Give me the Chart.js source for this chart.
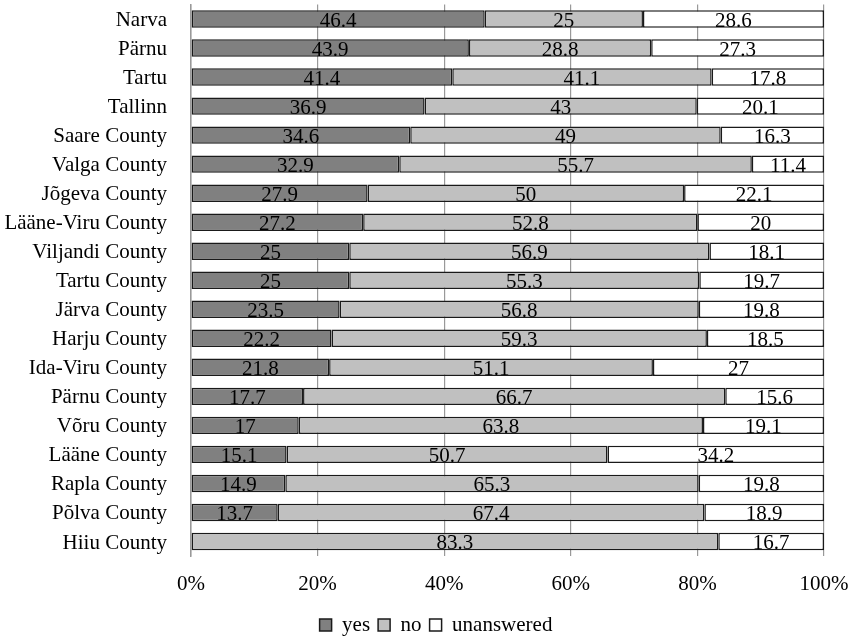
<!DOCTYPE html>
<html>
<head>
<meta charset="utf-8">
<script src="https://cdn.jsdelivr.net/npm/chart.js@4/dist/chart.umd.min.js"></script>
<style>
  html, body { margin: 0; padding: 0; background: #fff; }
  #wrap { width: 851px; height: 636px; }
</style>
</head>
<body>
<div id="wrap"><canvas id="c" width="851" height="636"></canvas></div>
<script>
// Survey answers by region, percent of respondents
const regions = [
  'Narva', 'Pärnu', 'Tartu', 'Tallinn', 'Saare County', 'Valga County',
  'Jõgeva County', 'Lääne-Viru County', 'Viljandi County', 'Tartu County',
  'Järva County', 'Harju County', 'Ida-Viru County', 'Pärnu County',
  'Võru County', 'Lääne County', 'Rapla County', 'Põlva County', 'Hiiu County'
];
const yes = [46.4, 43.9, 41.4, 36.9, 34.6, 32.9, 27.9, 27.2, 25, 25, 23.5, 22.2, 21.8, 17.7, 17, 15.1, 14.9, 13.7, 0];
const no = [25, 28.8, 41.1, 43, 49, 55.7, 50, 52.8, 56.9, 55.3, 56.8, 59.3, 51.1, 66.7, 63.8, 50.7, 65.3, 67.4, 83.3];
const unanswered = [28.6, 27.3, 17.8, 20.1, 16.3, 11.4, 22.1, 20, 18.1, 19.7, 19.8, 18.5, 27, 15.6, 19.1, 34.2, 19.8, 18.9, 16.7];
const xTicks = [0, 20, 40, 60, 80, 100];

const FONT = '"Liberation Serif", "Times New Roman", serif';
const SIZE = 21;

// 100% stacked: each row is scaled to its own total, labels keep the stated values
const totals = regions.map((_, i) => yes[i] + no[i] + unanswered[i]);
const share = arr => arr.map((v, i) => v / totals[i] * 100);

// Draws the stated value in the middle of every non-empty segment
const segmentLabels = {
  id: 'segmentLabels',
  afterDatasetsDraw(chart) {
    const ctx = chart.ctx;
    ctx.save();
    ctx.font = SIZE + 'px ' + FONT;
    ctx.fillStyle = '#000';
    ctx.textAlign = 'center';
    ctx.textBaseline = 'alphabetic';
    chart.data.datasets.forEach((ds, di) => {
      const meta = chart.getDatasetMeta(di);
      meta.data.forEach((bar, i) => {
        const raw = ds.rawValues[i];
        if (!raw) return;
        const { x, y, base } = bar.getProps(['x', 'y', 'base'], true);
        ctx.fillText(String(raw), (x + base) / 2, y + 8);
      });
    });
    ctx.restore();
  }
};

new Chart(document.getElementById('c'), {
  type: 'bar',
  data: {
    labels: regions,
    datasets: [
      { label: 'yes', data: share(yes), rawValues: yes, backgroundColor: '#808080' },
      { label: 'no', data: share(no), rawValues: no, backgroundColor: '#c0c0c0' },
      { label: 'unanswered', data: share(unanswered), rawValues: unanswered, backgroundColor: '#ffffff' }
    ].map(d => Object.assign(d, {
      borderColor: '#1a1a1a',
      borderWidth: 1.5,
      borderSkipped: false,
      categoryPercentage: 1,
      barPercentage: 0.6
    }))
  },
  options: {
    indexAxis: 'y',
    responsive: false,
    animation: false,
    devicePixelRatio: 1,
    // negative right padding widens the legend strip so it centres a little right of the page middle
    layout: { padding: { top: 4.5, right: -21, left: 0, bottom: -9.5 } },
    plugins: {
      tooltip: { enabled: false },
      legend: {
        position: 'bottom',
        labels: {
          font: { family: FONT, size: SIZE },
          color: '#000',
          boxWidth: 12,
          boxHeight: 12,
          padding: 8
        }
      }
    },
    scales: {
      x: {
        stacked: true,
        min: 0,
        max: 100,
        afterBuildTicks(scale) { scale.ticks = xTicks.map(v => ({ value: v })); },
        afterFit(scale) {
          scale.height = 50.5;
          scale.paddingLeft = 0;
          scale.paddingRight = 27;
        },
        ticks: {
          callback: v => v + '%',
          font: { family: FONT, size: SIZE },
          color: '#000',
          padding: 16,
          maxRotation: 0
        },
        grid: { color: '#999999', lineWidth: 1.2, drawTicks: false },
        border: { display: false }
      },
      y: {
        stacked: true,
        afterFit(scale) {
          scale.width = 191;
          scale.paddingTop = 0;
          scale.paddingBottom = 0;
        },
        ticks: {
          font: { family: FONT, size: SIZE },
          color: '#000',
          padding: 16,
          labelOffset: 1.5,
          autoSkip: false
        },
        grid: { display: false },
        border: { display: true, color: '#999999', width: 1.5 }
      }
    }
  },
  plugins: [segmentLabels]
});
</script>
</body>
</html>
